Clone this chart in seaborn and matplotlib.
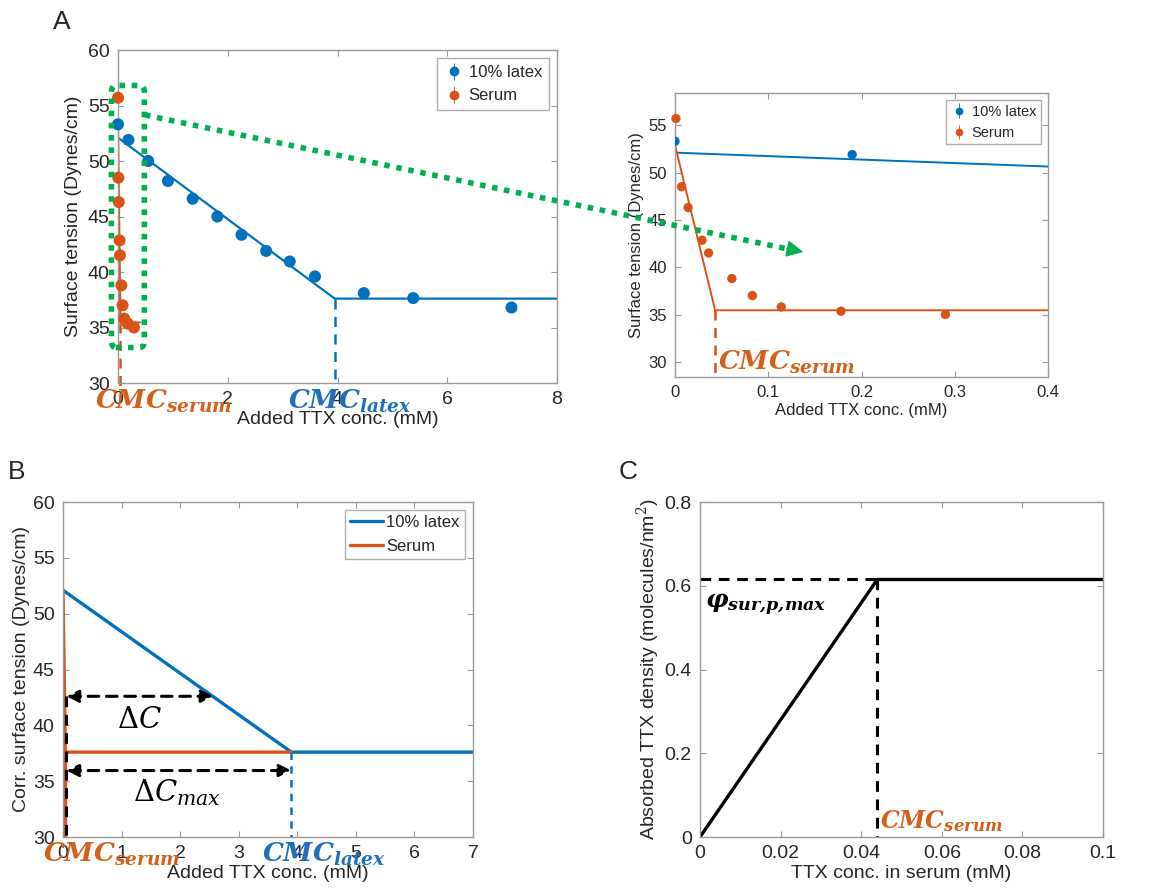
import numpy as np
import pandas as pd
import matplotlib
matplotlib.use("Agg")
import matplotlib.pyplot as plt
import seaborn as sns
from matplotlib.patches import FancyBboxPatch, FancyArrowPatch

# ---------------- data ----------------
latex_x = [0.0, 0.19, 0.55, 0.91, 1.36, 1.81, 2.25, 2.70, 3.13, 3.59, 4.48, 5.38, 7.17]
latex_y = [53.3, 51.9, 50.0, 48.2, 46.6, 45.0, 43.35, 41.9, 40.95, 39.6, 38.1, 37.65, 36.8]
serum_x = [0.001, 0.007, 0.014, 0.029, 0.036, 0.061, 0.083, 0.114, 0.178, 0.290]
serum_y = [55.7, 48.5, 46.3, 42.85, 41.5, 38.8, 37.0, 35.8, 35.35, 35.0]

latex_fit_x = [0.0, 3.95, 8.0]
latex_fit_y = [52.1, 37.6, 37.6]
serum_fit_x = [0.0, 0.043, 0.4]
serum_fit_y = [52.9, 35.45, 35.45]

corr_latex_x = [0.0, 3.9, 7.0]
corr_latex_y = [52.1, 37.6, 37.6]
corr_serum_x = [0.0, 0.04, 3.9]
corr_serum_y = [52.1, 37.6, 37.6]

dens_x = [0.0, 0.044, 0.1]
dens_y = [0.0, 0.615, 0.615]

BLUE = "#0072BD"
ORANGE = "#D95319"
TXT_OR = "#D4601C"
TXT_BL = "#1F6FBF"
GREEN = "#00B050"

sns.set_style("ticks")
plt.rcParams["font.family"] = ["Liberation Sans", "DejaVu Sans"]
plt.rcParams["mathtext.fontset"] = "custom"
plt.rcParams["mathtext.rm"] = "DejaVu Serif"
plt.rcParams["mathtext.it"] = "DejaVu Serif:italic"
plt.rcParams["mathtext.bf"] = "DejaVu Serif:italic:bold"
plt.rcParams["axes.edgecolor"] = "#9a9a9a"
plt.rcParams["axes.linewidth"] = 1.0
plt.rcParams["xtick.color"] = "#9a9a9a"
plt.rcParams["ytick.color"] = "#9a9a9a"
plt.rcParams["xtick.labelcolor"] = "#262626"
plt.rcParams["ytick.labelcolor"] = "#262626"
plt.rcParams["axes.labelcolor"] = "#262626"

fig = plt.figure(figsize=(11.68, 8.96), dpi=100)
W, H = 1168, 896

def ax_px(l, t, r, b):
    return fig.add_axes([l / W, 1 - b / H, (r - l) / W, (b - t) / H])

def style(ax, fs):
    ax.tick_params(direction="in", top=True, right=True, length=4, labelsize=fs, pad=6)
    for s in ax.spines.values():
        s.set_visible(True)

def err_handles(ax, ms):
    hs = []
    for c, lab in [(BLUE, "10% latex"), (ORANGE, "Serum")]:
        h = ax.errorbar([np.nan], [np.nan], yerr=[0.0], fmt="o", color=c, ms=ms,
                        elinewidth=0.6, capsize=0, label=lab)
        hs.append(h)
    return hs

# ---------------- Panel A ----------------
axA = ax_px(118, 50, 557, 383)
sns.lineplot(x=latex_fit_x, y=latex_fit_y, ax=axA, color=BLUE, lw=1.6)
sns.lineplot(x=serum_fit_x, y=serum_fit_y, ax=axA, color=ORANGE, lw=1.6)
sns.scatterplot(x=latex_x, y=latex_y, ax=axA, color=BLUE, s=75, edgecolor="none", zorder=5,
                clip_on=False)
sns.scatterplot(x=serum_x, y=serum_y, ax=axA, color=ORANGE, s=75, edgecolor="none", zorder=5,
                clip_on=False)
axA.plot([latex_fit_x[1]] * 2, [latex_fit_y[1], 30], ls=(0, (4, 3)), color=BLUE, lw=1.8)
axA.plot([serum_fit_x[1]] * 2, [serum_fit_y[1], 28.5], ls=(0, (4, 3)), color=ORANGE, lw=1.8, clip_on=False)
axA.set_xlim(0, 8)
axA.set_ylim(30, 60)
axA.set_xticks([0, 2, 4, 6, 8])
axA.set_yticks([30, 35, 40, 45, 50, 55, 60])
style(axA, 14)
axA.set_xlabel("Added TTX conc. (mM)", fontsize=14, labelpad=2)
axA.set_ylabel("Surface tension (Dynes/cm)", fontsize=14, labelpad=4)
hs = err_handles(axA, 6)
axA.legend(handles=hs, loc="upper right", fontsize=12, frameon=True, fancybox=False,
           edgecolor="#9a9a9a", handletextpad=0.3, borderpad=0.4, handlelength=1.2)
rect = FancyBboxPatch((-0.12, 33.2), 0.6, 23.6, boxstyle="round,pad=0.0,rounding_size=0.08",
                      fill=False, ec=GREEN, lw=4, ls=(0, (1, 1.2)), clip_on=False, zorder=6,
                      mutation_aspect=8)
axA.add_patch(rect)
axA.text(-0.42, 27.7, r"$\mathbf{CMC_{serum}}$", color=TXT_OR, fontsize=19, va="baseline",
         ha="left", clip_on=False, zorder=7)
axA.text(3.1, 27.7, r"$\mathbf{CMC_{latex}}$", color=TXT_BL, fontsize=19, va="baseline",
         ha="left", clip_on=False, zorder=7)
fig.text(62 / W, 1 - 22 / H, "A", fontsize=19, va="center", ha="center")

# ---------------- Inset ----------------
axI = ax_px(675, 93, 1048, 377)
sns.lineplot(x=latex_fit_x, y=latex_fit_y, ax=axI, color=BLUE, lw=1.4)
sns.lineplot(x=serum_fit_x, y=serum_fit_y, ax=axI, color=ORANGE, lw=1.4)
sns.scatterplot(x=latex_x, y=latex_y, ax=axI, color=BLUE, s=45, edgecolor="none", zorder=5)
sns.scatterplot(x=serum_x, y=serum_y, ax=axI, color=ORANGE, s=45, edgecolor="none", zorder=5,
                clip_on=False)
axI.plot([serum_fit_x[1]] * 2, [serum_fit_y[1], 28.4], ls=(0, (4, 3)), color=ORANGE, lw=1.8)
axI.set_xlim(0, 0.4)
axI.set_ylim(28.4, 58.4)
axI.set_xticks([0, 0.1, 0.2, 0.3, 0.4])
axI.set_xticklabels(["0", "0.1", "0.2", "0.3", "0.4"])
axI.set_yticks([30, 35, 40, 45, 50, 55])
style(axI, 12)
axI.set_xlabel("Added TTX conc. (mM)", fontsize=12, labelpad=2)
axI.set_ylabel("Surface tension (Dynes/cm)", fontsize=12, labelpad=3)
hs = err_handles(axI, 4.5)
axI.legend(handles=hs, loc="upper right", fontsize=10.5, frameon=True, fancybox=False,
           edgecolor="#9a9a9a", handletextpad=0.3, borderpad=0.3, handlelength=1.2)
axI.text(0.046, 29.15, r"$\mathbf{CMC_{serum}}$", color=TXT_OR, fontsize=19, va="baseline",
         ha="left", zorder=7)

# green dotted arrow (figure level, on top of both axes)
fig.add_artist(plt.Line2D([145 / W, 788 / W], [1 - 115 / H, 1 - 249 / H], color=GREEN, lw=4,
                          ls=(0, (1, 1.2)), transform=fig.transFigure, zorder=8))
head = FancyArrowPatch((784 / W, 1 - 248 / H), (806 / W, 1 - 252.5 / H),
                       transform=fig.transFigure, arrowstyle="-|>", mutation_scale=26,
                       color=GREEN, lw=1, zorder=9)
fig.add_artist(head)

# ---------------- Panel B ----------------
axB = ax_px(63, 502, 473, 837)
sns.lineplot(x=corr_latex_x, y=corr_latex_y, ax=axB, color=BLUE, lw=2.4, label="10% latex")
sns.lineplot(x=corr_serum_x, y=corr_serum_y, ax=axB, color=ORANGE, lw=2.4, label="Serum")
axB.plot([corr_latex_x[1]] * 2, [corr_latex_y[1], 30], ls=(0, (3, 2.5)), color=BLUE, lw=1.8)
axB.plot([0.04, 0.04], [37.6, 30], color=ORANGE, lw=2.4)
axB.plot([0.057, 0.057], [42.6, 30], ls=(0, (3.5, 2.5)), color="black", lw=2.2)
axB.annotate("", xy=(2.57, 42.6), xytext=(0.057, 42.6),
             arrowprops=dict(arrowstyle="<|-|>", color="black", lw=2.2, ls=(0, (3.5, 2.5)),
                             mutation_scale=18, shrinkA=0, shrinkB=0))
axB.annotate("", xy=(3.9, 35.95), xytext=(0.057, 35.95),
             arrowprops=dict(arrowstyle="<|-|>", color="black", lw=2.2, ls=(0, (3.5, 2.5)),
                             mutation_scale=18, shrinkA=0, shrinkB=0))
axB.text(0.92, 39.8, r"$\Delta C$", fontsize=21, color="black", va="baseline", ha="left")
axB.text(1.2, 33.2, r"$\Delta C_{max}$", fontsize=21, color="black", va="baseline", ha="left")
axB.set_xlim(0, 7)
axB.set_ylim(30, 60)
axB.set_xticks(range(0, 8))
axB.set_yticks([30, 35, 40, 45, 50, 55, 60])
style(axB, 14)
axB.set_xlabel("Added TTX conc. (mM)", fontsize=14, labelpad=2)
axB.set_ylabel("Corr. surface tension (Dynes/cm)", fontsize=14, labelpad=2)
axB.legend(loc="upper right", fontsize=12, frameon=True, fancybox=False, edgecolor="#9a9a9a",
           handletextpad=0.2, borderpad=0.3, handlelength=2.0)
axB.text(-0.34, 27.8, r"$\mathbf{CMC_{serum}}$", color=TXT_OR, fontsize=19, va="baseline",
         ha="left", clip_on=False, zorder=7)
axB.text(3.40, 27.8, r"$\mathbf{CMC_{latex}}$", color=TXT_BL, fontsize=19, va="baseline",
         ha="left", clip_on=False, zorder=7)
fig.text(17 / W, 1 - 472 / H, "B", fontsize=19, va="center", ha="center")

# ---------------- Panel C ----------------
axC = ax_px(700, 502, 1103, 837)
sns.lineplot(x=dens_x, y=dens_y, ax=axC, color="black", lw=2.4)
axC.plot([0, dens_x[1]], [dens_y[1]] * 2, ls=(0, (3.5, 2.5)), color="black", lw=2.2)
axC.plot([dens_x[1]] * 2, [dens_y[1], 0], ls=(0, (3.5, 2.5)), color="black", lw=2.2)
axC.set_xlim(0, 0.1)
axC.set_ylim(0, 0.8)
axC.set_xticks([0, 0.02, 0.04, 0.06, 0.08, 0.1])
axC.set_xticklabels(["0", "0.02", "0.04", "0.06", "0.08", "0.1"])
axC.set_yticks([0, 0.2, 0.4, 0.6, 0.8])
axC.set_yticklabels(["0", "0.2", "0.4", "0.6", "0.8"])
style(axC, 14)
axC.set_xlabel("TTX conc. in serum (mM)", fontsize=14, labelpad=2)
axC.set_ylabel(r"Absorbed TTX density (molecules/nm$^2$)", fontsize=14, labelpad=2)
axC.text(0.0012, 0.547, r"$\mathbf{\varphi_{sur{,}p{,}max}}$", color="black", fontsize=18,
         va="baseline", ha="left")
axC.text(0.0447, 0.0215, r"$\mathbf{CMC_{serum}}$", color=TXT_OR, fontsize=17, va="baseline",
         ha="left")
fig.text(628 / W, 1 - 472 / H, "C", fontsize=19, va="center", ha="center")

fig.savefig("out.png", dpi=100)
